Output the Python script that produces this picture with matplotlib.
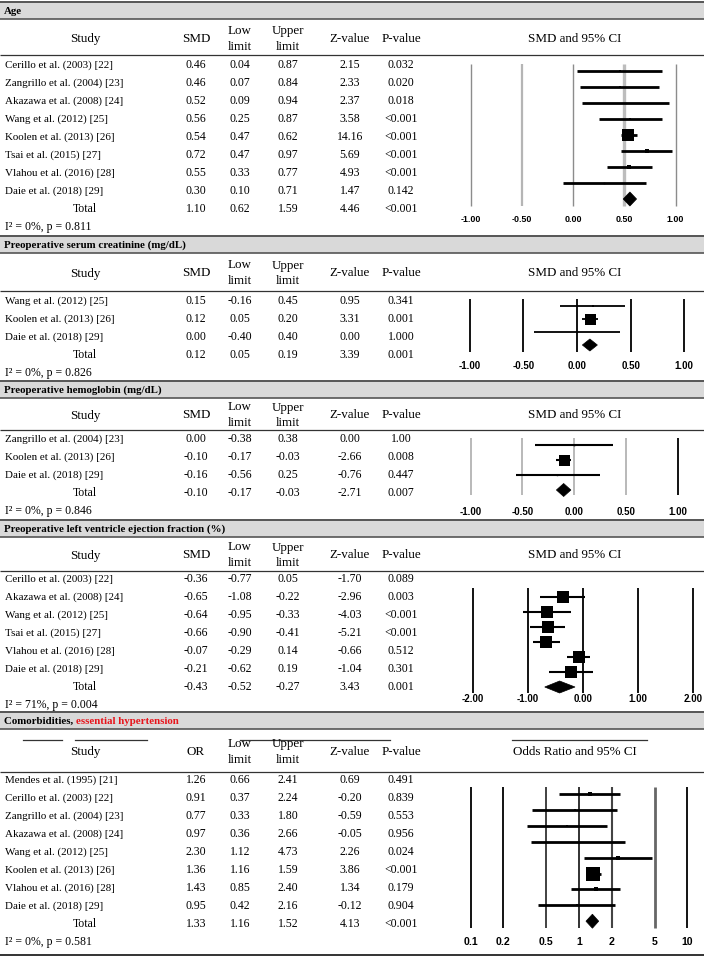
import matplotlib
matplotlib.use("Agg")
import matplotlib.pyplot as plt
from matplotlib.patches import Rectangle, Polygon
import numpy as np

W, H = 704, 958
SERIF = ["Liberation Serif", "DejaVu Serif"]
SANS = ["Liberation Sans", "DejaVu Sans"]

# ------------------------------------------------------------------ data
age_studies = ["Cerillo et al. (2003) [22]", "Zangrillo et al. (2004) [23]", "Akazawa et al. (2008) [24]",
               "Wang et al. (2012) [25]", "Koolen et al. (2013) [26]", "Tsai et al. (2015) [27]",
               "Vlahou et al. (2016) [28]", "Daie et al. (2018) [29]"]
age_est = [0.46, 0.46, 0.52, 0.56, 0.54, 0.72, 0.55, 0.30]
age_low = [0.04, 0.07, 0.09, 0.25, 0.47, 0.47, 0.33, 0.10]
age_high = [0.87, 0.84, 0.94, 0.87, 0.62, 0.97, 0.77, 0.71]
age_z = [2.15, 2.33, 2.37, 3.58, 14.16, 5.69, 4.93, 1.47]
age_p = ["0.032", "0.020", "0.018", "<0.001", "<0.001", "<0.001", "<0.001", "0.142"]
age_total = [1.10, 0.62, 1.59, 4.46]
age_total_p = "<0.001"
age_het = "I\u00b2 = 0%, p = 0.811"
age_plot_low = [0.04, 0.07, 0.09, 0.25, 0.47, 0.47, 0.33, -0.10]
age_plot_pooled = [0.555, 0.49, 0.62]
age_weight = [2, 2, 0.8, 4, 70, 5, 7, 1.2]

crea_studies = ["Wang et al. (2012) [25]", "Koolen et al. (2013) [26]", "Daie et al. (2018) [29]"]
crea_est = [0.15, 0.12, 0.00]
crea_low = [-0.16, 0.05, -0.40]
crea_high = [0.45, 0.20, 0.40]
crea_z = [0.95, 3.31, 0.00]
crea_p = ["0.341", "0.001", "1.000"]
crea_total = [0.12, 0.05, 0.19, 3.39]
crea_total_p = "0.001"
crea_het = "I\u00b2 = 0%, p = 0.826"
crea_weight = [5, 90, 1]

hb_studies = ["Zangrillo et al. (2004) [23]", "Koolen et al. (2013) [26]", "Daie et al. (2018) [29]"]
hb_est = [0.00, -0.10, -0.16]
hb_low = [-0.38, -0.17, -0.56]
hb_high = [0.38, -0.03, 0.25]
hb_z = [0.00, -2.66, -0.76]
hb_p = ["1.00", "0.008", "0.447"]
hb_total = [-0.10, -0.17, -0.03, -2.71]
hb_total_p = "0.007"
hb_het = "I\u00b2 = 0%, p = 0.846"
hb_weight = [2, 95, 1.5]

lvef_studies = ["Cerillo et al. (2003) [22]", "Akazawa et al. (2008) [24]", "Wang et al. (2012) [25]",
                "Tsai et al. (2015) [27]", "Vlahou et al. (2016) [28]", "Daie et al. (2018) [29]"]
lvef_est = [-0.36, -0.65, -0.64, -0.66, -0.07, -0.21]
lvef_low = [-0.77, -1.08, -0.95, -0.90, -0.29, -0.62]
lvef_high = [0.05, -0.22, -0.33, -0.41, 0.14, 0.19]
lvef_z = [-1.70, -2.96, -4.03, -5.21, -0.66, -1.04]
lvef_p = ["0.089", "0.003", "<0.001", "<0.001", "0.512", "0.301"]
lvef_total = [-0.43, -0.52, -0.27, 3.43]
lvef_total_p = "0.001"
lvef_het = "I\u00b2 = 71%, p = 0.004"
lvef_plot_pooled = [-0.42, -0.69, -0.14]
lvef_weight = [16, 16, 18, 18, 19, 16]

htn_studies = ["Mendes et al. (1995) [21]", "Cerillo et al. (2003) [22]", "Zangrillo et al. (2004) [23]",
               "Akazawa et al. (2008) [24]", "Wang et al. (2012) [25]", "Koolen et al. (2013) [26]",
               "Vlahou et al. (2016) [28]", "Daie et al. (2018) [29]"]
htn_est = [1.26, 0.91, 0.77, 0.97, 2.30, 1.36, 1.43, 0.95]
htn_low = [0.66, 0.37, 0.33, 0.36, 1.12, 1.16, 0.85, 0.42]
htn_high = [2.41, 2.24, 1.80, 2.66, 4.73, 1.59, 2.40, 2.16]
htn_z = [0.69, -0.20, -0.59, -0.05, 2.26, 3.86, 1.34, -0.12]
htn_p = ["0.491", "0.839", "0.553", "0.956", "0.024", "<0.001", "0.179", "0.904"]
htn_total = [1.33, 1.16, 1.52, 4.13]
htn_total_p = "<0.001"
htn_het = "I\u00b2 = 0%, p = 0.581"
htn_weight = [4.5, 2.5, 2, 1, 3.5, 70, 4.5, 2]

smd_ticks = [-1.0, -0.5, 0.0, 0.5, 1.0]
smd_ticklabels = ["-1.00", "-0.50", "0.00", "0.50", "1.00"]
lvef_ticks = [-2.0, -1.0, 0.0, 1.0, 2.0]
lvef_ticklabels = ["-2.00", "-1.00", "0.00", "1.00", "2.00"]
or_ticks = [0.1, 0.2, 0.5, 1, 2, 5, 10]
or_ticklabels = ["0.1", "0.2", "0.5", "1", "2", "5", "10"]

# ------------------------------------------------------------------ layout
ROW = 18
COLX = {"study": 5, "study_c": 85, "est": 196, "low": 240, "up": 288, "z": 350, "p": 401, "ci": 575}
FS_NAME = 7.9
FS_VAL = 8.5
FS_HEAD = 9.4
FS_TITLE = 7.8

sections = [
    dict(title="Age", title_red=None, eff="SMD", ci_title="SMD and 95% CI",
         studies=age_studies, est=age_est, low=age_low, high=age_high, z=age_z, p=age_p,
         total=age_total, total_p=age_total_p, het=age_het,
         band_top=2, header_line=55, first_row=65),
    dict(title="Preoperative serum creatinine (mg/dL)", title_red=None, eff="SMD", ci_title="SMD and 95% CI",
         studies=crea_studies, est=crea_est, low=crea_low, high=crea_high, z=crea_z, p=crea_p,
         total=crea_total, total_p=crea_total_p, het=crea_het,
         band_top=236, header_line=291, first_row=301),
    dict(title="Preoperative hemoglobin (mg/dL)", title_red=None, eff="SMD", ci_title="SMD and 95% CI",
         studies=hb_studies, est=hb_est, low=hb_low, high=hb_high, z=hb_z, p=hb_p,
         total=hb_total, total_p=hb_total_p, het=hb_het,
         band_top=381, header_line=430, first_row=439),
    dict(title="Preoperative left ventricle ejection fraction (%)", title_red=None, eff="SMD",
         ci_title="SMD and 95% CI",
         studies=lvef_studies, est=lvef_est, low=lvef_low, high=lvef_high, z=lvef_z, p=lvef_p,
         total=lvef_total, total_p=lvef_total_p, het=lvef_het,
         band_top=520, header_line=571, first_row=579),
    dict(title="Comorbidities, ", title_red="essential hypertension", eff="OR",
         ci_title="Odds Ratio and 95% CI",
         studies=htn_studies, est=htn_est, low=htn_low, high=htn_high, z=htn_z, p=htn_p,
         total=htn_total, total_p=htn_total_p, het=htn_het,
         band_top=712, header_line=772, first_row=780),
]

fig = plt.figure(figsize=(W / 100, H / 100), dpi=100)
base = fig.add_axes([0, 0, 1, 1])
base.set_xlim(0, W)
base.set_ylim(H, 0)
base.axis("off")

BAND_H = 17
for s in sections:
    bt = s["band_top"]
    base.add_patch(Rectangle((0, bt), W, BAND_H, facecolor="#d9d9d9", edgecolor="none", zorder=0))
    base.plot([0, W], [bt, bt], color="#555555", lw=1.4, solid_capstyle="butt")
    base.plot([0, W], [bt + BAND_H, bt + BAND_H], color="#555555", lw=1.2, solid_capstyle="butt")
    t1 = base.text(4, bt + BAND_H / 2 + 0.5, s["title"], fontsize=FS_TITLE, fontweight="bold",
                   family=SERIF, va="center", ha="left")
    if s["title_red"]:
        base.annotate(s["title_red"], xy=(1, 0), xycoords=t1, va="bottom", ha="left",
                      fontsize=FS_TITLE, fontweight="bold", family=SERIF, color="#e8141b")
    hl = s["header_line"]
    hc = (bt + BAND_H + hl) / 2 + 1.5
    base.plot([0, W], [hl, hl], color="#333333", lw=0.9, solid_capstyle="butt")
    kh = dict(fontsize=FS_HEAD, family=SERIF, va="center", ha="center")
    base.text(COLX["study_c"], hc, "Study", **kh)
    base.text(COLX["est"], hc, s["eff"], **kh)
    base.text(COLX["low"], hc - 8, "Low", **kh)
    base.text(COLX["low"], hc + 8, "limit", **kh)
    base.text(COLX["up"], hc - 8, "Upper", **kh)
    base.text(COLX["up"], hc + 8, "limit", **kh)
    base.text(COLX["z"], hc, "Z-value", **kh)
    base.text(COLX["p"], hc, "P-value", **kh)
    base.text(COLX["ci"], hc, s["ci_title"], **kh)
    if s["title_red"]:
        yl = bt + BAND_H + 11
        for xa, xb in [(23, 62), (75, 147), (240, 390), (512, 647)]:
            base.plot([xa, xb], [yl, yl], color="#333333", lw=0.9)
    kw = dict(fontsize=FS_VAL, family=SERIF, va="center", ha="center")
    y = s["first_row"]
    for i, name in enumerate(s["studies"]):
        yy = y + i * ROW
        base.text(COLX["study"], yy, name, fontsize=FS_NAME, family=SERIF, va="center", ha="left")
        base.text(COLX["est"], yy, f"{s['est'][i]:.2f}", **kw)
        base.text(COLX["low"], yy, f"{s['low'][i]:.2f}", **kw)
        base.text(COLX["up"], yy, f"{s['high'][i]:.2f}", **kw)
        base.text(COLX["z"], yy, f"{s['z'][i]:.2f}", **kw)
        base.text(COLX["p"], yy, s["p"][i], **kw)
    yy = y + len(s["studies"]) * ROW
    base.text(COLX["study_c"], yy, "Total", fontsize=FS_VAL, family=SERIF, va="center", ha="center")
    tv = s["total"]
    base.text(COLX["est"], yy, f"{tv[0]:.2f}", **kw)
    base.text(COLX["low"], yy, f"{tv[1]:.2f}", **kw)
    base.text(COLX["up"], yy, f"{tv[2]:.2f}", **kw)
    base.text(COLX["z"], yy, f"{tv[3]:.2f}", **kw)
    base.text(COLX["p"], yy, s["total_p"], **kw)
    base.text(COLX["study"], yy + ROW, s["het"], fontsize=FS_VAL, family=SERIF, va="center", ha="left")

base.plot([0, W], [955, 955], color="#333333", lw=1.4, solid_capstyle="butt")


# ------------------------------------------------------------------ forest panels
def panel(est, low, high, weight, pooled, ticks, ticklabels, zero_px, scale, line_top, line_bot,
          first_px, step, label_px, line_colors, line_widths, ci_lw, max_box, log=False,
          label_fs=7.0, diamond_h=6.5):
    x0, x1 = 455, 704
    y0, y1 = line_top - 10, label_px + 9
    ax = fig.add_axes([x0 / W, 1 - y1 / H, (x1 - x0) / W, (y1 - y0) / H])
    ax.axis("off")
    if log:
        ax.set_xscale("log")
        ax.set_xlim(10 ** ((x0 - zero_px) / scale), 10 ** ((x1 - zero_px) / scale))
    else:
        ax.set_xlim((x0 - zero_px) / scale, (x1 - zero_px) / scale)
    ax.set_ylim((y1 - first_px) / step, (y0 - first_px) / step)
    yt = (line_top - first_px) / step
    yb = (line_bot - first_px) / step
    for t, c, lw in zip(ticks, line_colors, line_widths):
        ax.vlines(t, yt, yb, colors=c, lw=lw, zorder=1)
    yl = (label_px - first_px) / step
    for t, lab in zip(ticks, ticklabels):
        ax.text(t, yl, lab, ha="center", va="center", fontsize=label_fs, fontweight="bold", family=SANS)
    wmax = max(weight)
    for i in range(len(est)):
        ax.hlines(i, low[i], high[i], colors="black", lw=ci_lw, zorder=2)
        side = max_box * np.sqrt(weight[i] / wmax)
        ax.plot(est[i], i, marker="s", ms=side * 0.72, color="black", mec="black", mew=0, zorder=3)
    n = len(est)
    h = diamond_h / step
    ax.add_patch(Polygon([(pooled[1], n), (pooled[0], n - h), (pooled[2], n), (pooled[0], n + h)],
                         closed=True, facecolor="black", edgecolor="black", lw=0.5, zorder=3))
    return ax


panel(age_est, age_plot_low, age_high, age_weight, age_plot_pooled, smd_ticks, smd_ticklabels,
      573, 102.5, 64, 206, 71, 16, 220,
      ["#8c8c8c", "#b5b5b5", "#8c8c8c", "#bdbdbd", "#8c8c8c"], [1.0, 1.6, 1.0, 2.4, 1.0],
      2.0, 12, label_fs=6.4, diamond_h=7)

panel(crea_est, crea_low, crea_high, crea_weight, [crea_total[0], crea_total[1], crea_total[2]],
      smd_ticks, smd_ticklabels, 577, 107.2, 299, 352, 305.7, 13.1, 366,
      ["black"] * 5, [1.3] * 5, 1.3, 11, label_fs=7.0, diamond_h=6)

panel(hb_est, hb_low, hb_high, hb_weight, [hb_total[0], hb_total[1], hb_total[2]],
      smd_ticks, smd_ticklabels, 574, 103.5, 438, 495, 445, 15, 512,
      ["#a6a6a6", "#a6a6a6", "#a6a6a6", "#a6a6a6", "black"], [1.1, 1.1, 1.1, 1.1, 1.3],
      1.5, 11, label_fs=7.0, diamond_h=6.5)

panel(lvef_est, lvef_low, lvef_high, lvef_weight, lvef_plot_pooled, lvef_ticks, lvef_ticklabels,
      582.7, 55, 588, 693, 597, 15, 699,
      ["black"] * 5, [1.3] * 5, 1.5, 12.5, label_fs=7.0, diamond_h=6)

panel(htn_est, htn_low, htn_high, htn_weight, [htn_total[0], htn_total[1], htn_total[2]],
      or_ticks, or_ticklabels, 579, 108.3, 787, 928, 794, 15.9, 942,
      ["black", "black", "#333333", "#222222", "#444444", "#666666", "black"],
      [1.3, 1.3, 1.3, 1.3, 1.5, 2.0, 1.3],
      2.0, 14, log=True, label_fs=7.6, diamond_h=7)

fig.savefig("out.png", dpi=100)
